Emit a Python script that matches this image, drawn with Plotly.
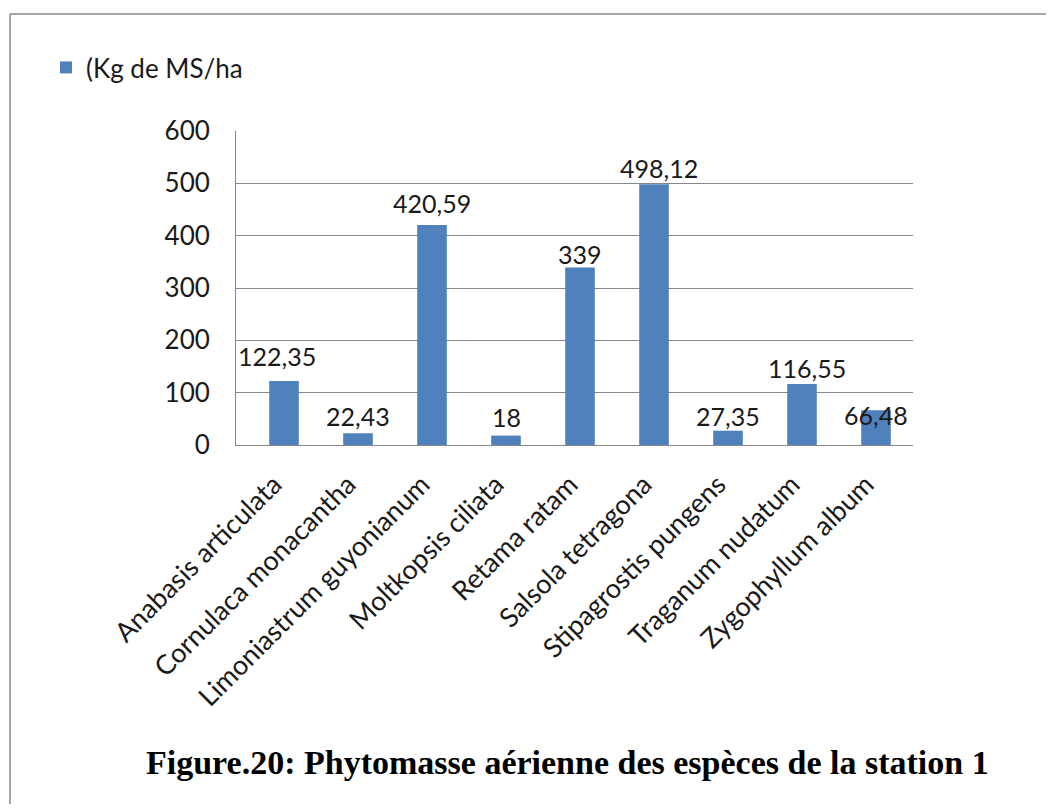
import plotly.graph_objects as go

# ---- data ----
species = [
    "Anabasis articulata",
    "Cornulaca monacantha",
    "Limoniastrum guyonianum",
    "Moltkopsis ciliata",
    "Retama ratam",
    "Salsola tetragona",
    "Stipagrostis pungens",
    "Traganum nudatum",
    "Zygophyllum album",
]
phytomasse = [122.35, 22.43, 420.59, 18, 339, 498.12, 27.35, 116.55, 66.48]
series_name = "(Kg de MS/ha"
title_text = "Figure.20: Phytomasse aérienne des espèces de la station 1"
y_ticks = [0, 100, 200, 300, 400, 500, 600]

# ---- style ----
BAR_COLOR = "#4F81BD"
GRID = "#878787"
FONT = "Lato"
TXT = "#1a1a1a"
# label offsets in px (dx, dy above bar top) -- style only
label_dx = [-7, 0, 0, 0, 0, 5, 0, 5, 0]
label_dy = [25, 17, 22, 19, 14, 16, 15, 16, -5]

OFF = 8  # page body margin
W, H = 1054 - 2 * OFF, 812 - 2 * OFF
# plot area in screen pixels
SX0, SX1, SY0, SY1 = 236, 913, 131, 445
L, T = SX0 - OFF, SY0 - OFF
R, B = W - (SX1 - OFF), H - (SY1 - OFF)
pw, ph = SX1 - SX0, SY1 - SY0


def px_x(px):
    return (px - SX0) / pw


def px_y(py):
    return (SY1 - py) / ph


fig = go.Figure()
fig.add_trace(go.Bar(
    x=species, y=phytomasse, name=series_name,
    marker=dict(color=BAR_COLOR, line=dict(width=0)),
    showlegend=True,
))

for s, v, dx, dy in zip(species, phytomasse, label_dx, label_dy):
    fig.add_annotation(
        x=s, y=v, xref="x", yref="y",
        text=f"{v:g}".replace(".", ","),
        showarrow=False, xanchor="center", yanchor="middle",
        xshift=dx, yshift=dy,
        font=dict(family=FONT, size=25, color=TXT),
    )

# title
fig.add_annotation(
    x=px_x(567.5), y=px_y(762), xref="paper", yref="paper",
    text=f"<b>{title_text}</b>", showarrow=False,
    xanchor="center", yanchor="middle",
    font=dict(family="Liberation Serif", size=34, color="#000000"),
)

# outer frame (top and left edges visible)
fig.add_shape(type="line", xref="paper", yref="paper",
              x0=px_x(10), x1=px_x(1070), y0=px_y(14), y1=px_y(14),
              line=dict(color="#8a8a8a", width=1.5))
fig.add_shape(type="line", xref="paper", yref="paper",
              x0=px_x(10), x1=px_x(10), y0=px_y(14), y1=px_y(830),
              line=dict(color="#8a8a8a", width=1.5))

fig.update_layout(
    width=W, height=H,
    margin=dict(l=L, r=R, t=T, b=B, autoexpand=False),
    paper_bgcolor="white", plot_bgcolor="white",
    bargap=0.6,
    font=dict(family=FONT, size=25, color=TXT),
    legend=dict(
        x=px_x(46), y=px_y(44), xanchor="left", yanchor="top",
        font=dict(family=FONT, size=26, color=TXT),
        bgcolor="rgba(0,0,0,0)",
    ),
    showlegend=True,
)
fig.update_xaxes(
    tickangle=-45, showgrid=False, showline=True, linecolor=GRID, linewidth=1,
    ticks="", ticklabelstandoff=12, ticklabelshift=-10,
    tickfont=dict(family=FONT, size=27, color=TXT),
)
fig.update_yaxes(
    range=[0, 600], tickvals=y_ticks, showgrid=True, gridcolor=GRID, gridwidth=1,
    showline=True, linecolor=GRID, linewidth=1, zeroline=False,
    ticks="", ticklabelstandoff=20,
    tickfont=dict(family=FONT, size=26, color=TXT),
)

fig.write_html("out.html")
